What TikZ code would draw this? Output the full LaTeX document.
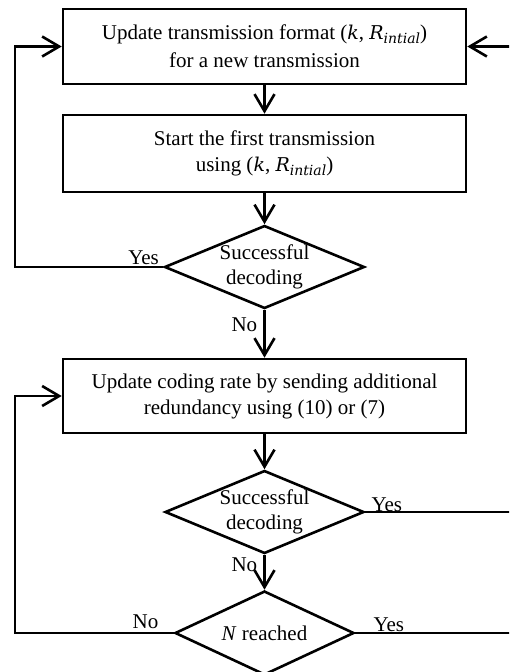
\documentclass[tikz,border=0pt]{standalone}
\usepackage{fontspec}
\setmainfont{Liberation Serif}
\newfontfamily\mif{DejaVu Serif}
\usetikzlibrary{shapes.geometric,arrows.meta}
\newcommand{\kR}{({\mif\itshape\fontsize{19}{19}\selectfont k}, {\mif\itshape\fontsize{19}{19}\selectfont R}\raisebox{-4pt}{\mif\itshape\fontsize{14}{14}\selectfont intial})}
\begin{document}
\begin{tikzpicture}[x=1pt,y=-1pt,
  every node/.style={font=\fontsize{21}{26}\selectfont},
  line width=2.6pt,
  procbox/.style={draw, rectangle, minimum width=403pt, align=center, inner sep=0pt},
  decision/.style={draw, diamond, inner sep=0pt, align=center, aspect=2.4, font=\fontsize{21}{25}\selectfont},
  lbl/.style={inner sep=0pt},
  flow/.style={-{Straight Barb[length=17pt,width=20pt]}}
]
\useasboundingbox (0,0) rectangle (509,672);
\clip (0,0) rectangle (509,672);
\coordinate (L) at (15,0);
\coordinate (R) at (512,0);

\node[procbox, minimum height=75pt, font=\fontsize{21}{28}\selectfont] (b1) at (264.5,46.5) {Update transmission format \kR\\for a new transmission};
\node[procbox, minimum height=77pt] (b2) at (264.5,153.5) {Start the first transmission\\using \kR};
\node[decision, minimum width=200pt, minimum height=83pt] (d1) at (264.5,267) {Successful\\decoding};
\node[procbox, minimum height=74pt] (b3) at (264.5,396) {Update coding rate by sending additional\\redundancy using (10) or (7)};
\node[decision, minimum width=199pt, minimum height=83pt] (d2) at (264.5,512) {Successful\\decoding};
\node[decision, minimum width=179pt, minimum height=84pt, aspect=2.1] (d3) at (264.5,633) {\textit{N} reached};

\draw[flow] (b1) -- (b2);
\draw[flow] (b2) -- (d1);
\draw[flow] (d1.west) -- (d1.west -| L) |- (b1.west);
\draw[flow] (b1.east -| R) -- (b1.east);
\draw[flow] (d1.south) -- (b3.north);
\draw[flow] (b3) -- (d2);
\draw[flow] (d2) -- (d3);
\draw (d2.east) -- (d2.east -| R);
\draw (d3.east) -- (d3.east -| R);
\draw[flow] (d3.west) -- (d3.west -| L) |- (b3.west);

\node[lbl, anchor=base east] (y1) at ([xshift=-3pt,yshift=3pt]d1.west) {Yes};
\node[lbl, anchor=base east] (n1) at ([xshift=-6pt,yshift=-22pt]d1.south) {No};
\node[lbl, anchor=base west] (y2) at ([xshift=5pt,yshift=1pt]d2.east) {Yes};
\node[lbl, anchor=base east] (n2) at ([xshift=-6pt,yshift=-17pt]d2.south) {No};
\node[lbl, anchor=base east] (n3) at ([xshift=-14pt,yshift=5pt]d3.west) {No};
\node[lbl, anchor=base west] (y3) at ([xshift=17pt,yshift=2pt]d3.east) {Yes};
\end{tikzpicture}
\end{document}
